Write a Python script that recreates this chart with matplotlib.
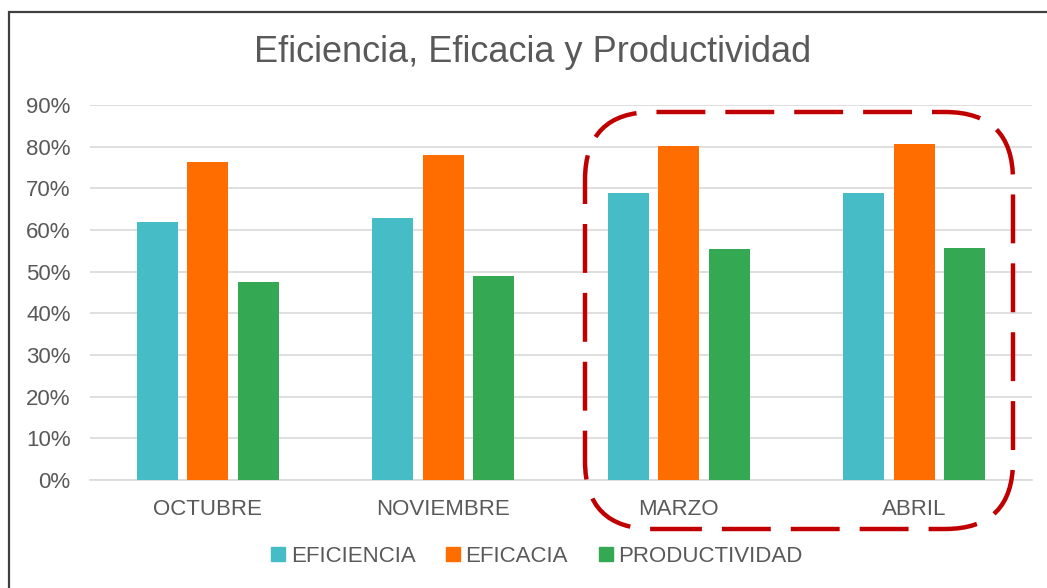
import matplotlib
matplotlib.use("Agg")
import numpy as np
import matplotlib.pyplot as plt
from matplotlib.patches import FancyBboxPatch, Rectangle
from matplotlib.lines import Line2D
from matplotlib.transforms import IdentityTransform
from matplotlib.ticker import PercentFormatter

plt.rcParams["font.family"] = ["Liberation Sans", "DejaVu Sans"]

months = ["OCTUBRE", "NOVIEMBRE", "MARZO", "ABRIL"]
eficiencia = [0.62, 0.628, 0.69, 0.69]
eficacia = [0.764, 0.78, 0.802, 0.806]
productividad = [0.476, 0.49, 0.554, 0.557]

series = [
    ("EFICIENCIA", eficiencia, "#46BDC6"),
    ("EFICACIA", eficacia, "#FF6D01"),
    ("PRODUCTIVIDAD", productividad, "#34A853"),
]

W, H = 1047, 588
text_color = "#595959"
grid_color = "#D9D9D9"

fig = plt.figure(figsize=(W / 100, H / 100), dpi=100)
ax = fig.add_axes([90 / W, 108 / H, 942 / W, 375 / H])

x = np.arange(len(months))
step = 0.215
width = 0.174
handles = []
for i, (label, vals, color) in enumerate(series):
    ax.bar(x + (i - 1) * step, vals, width=width, color=color, zorder=3)
    handles.append(Line2D([], [], marker="s", linestyle="none", markersize=9.5,
                          markerfacecolor=color, markeredgecolor=color, label=label))

ax.set_xlim(-0.5, len(months) - 0.5)
ax.set_ylim(0, 0.9)
ax.set_yticks(np.arange(0, 0.91, 0.1))
ax.yaxis.set_major_formatter(PercentFormatter(1.0, decimals=0))
ax.set_xticks(x)
ax.set_xticklabels(months)
ax.tick_params(axis="both", length=0, labelsize=16, labelcolor=text_color)
ax.tick_params(axis="y", pad=14)
ax.tick_params(axis="x", pad=14)
ax.grid(axis="y", color=grid_color, linewidth=1.2, zorder=0)
for side in ["top", "right", "left"]:
    ax.spines[side].set_visible(False)
ax.spines["bottom"].set_color(grid_color)
ax.spines["bottom"].set_linewidth(1.2)

fig.text(533 / W, 1 - 52 / H, "Eficiencia, Eficacia y Productividad",
         ha="center", va="center", fontsize=26, color=text_color)

fig.legend(handles=handles, loc="center", bbox_to_anchor=(537 / W, 1 - 556 / H),
           ncol=3, frameon=False, fontsize=16, labelcolor=text_color,
           handlelength=0.6, handletextpad=0.25, columnspacing=1.4, borderpad=0)

# outer frame of the screenshot
fig.add_artist(Rectangle((9, -10), W + 20, H - 12 + 10, transform=IdentityTransform(),
                         fill=False, edgecolor="#404040", linewidth=1.6))

# red dashed highlight around MARZO / ABRIL
fig.add_artist(FancyBboxPatch((585, H - 529), 1013 - 585, 529 - 112,
                              boxstyle="round,pad=0,rounding_size=68",
                              transform=IdentityTransform(), fill=False,
                              edgecolor="#C00000", linewidth=3.2,
                              linestyle=(0, (11, 4.5)), zorder=10))

fig.savefig("out.png", dpi=100)
